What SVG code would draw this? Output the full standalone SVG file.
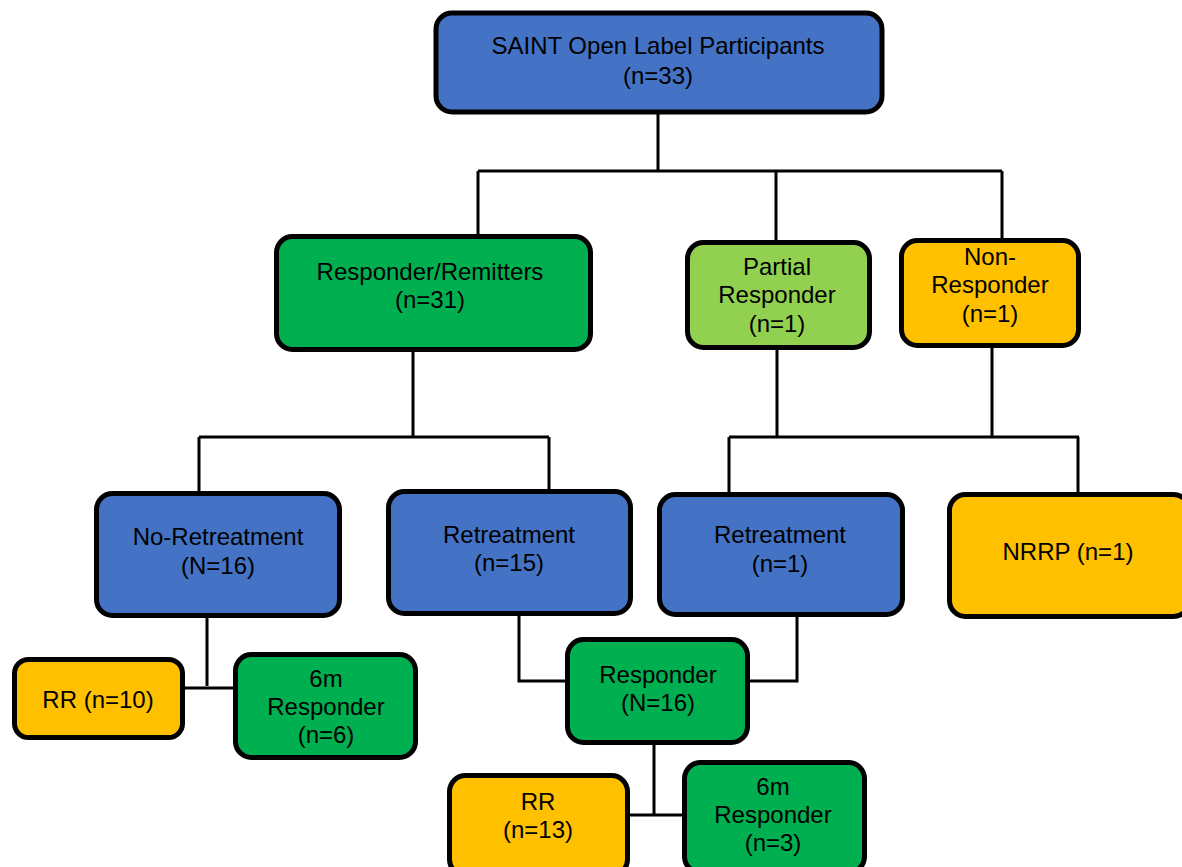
<svg xmlns="http://www.w3.org/2000/svg" width="1182" height="867" viewBox="0 0 1182 867">
<style>
.box{stroke:#000;stroke-width:5}
.blue{fill:#4472C4}
.green{fill:#00B050}
.lgreen{fill:#92D050}
.orange{fill:#FFC000}
text{font-size:24px;fill:#000;text-anchor:middle}
.conn{fill:none;stroke:#000;stroke-width:3}
</style>
<rect width="1182" height="867" fill="#fff"/>
<g id="connectors" class="conn">
<path d="M658 112V171M478 171H1002M478 171V237M776 171V243M1002 171V241"/>
<path d="M413 350V437M199 437H549M199 437V494M549 437V492"/>
<path d="M777 348V437M992 346V437M729 437H1079M729 437V495M1078 437V495"/>
<path d="M207 616V686M183 688H235"/>
<path d="M519 614V681H567M797 615V681H747"/>
<path d="M654 743V815M628 815H684"/>
</g>
<g font-family="Liberation Sans, Arial, sans-serif">
<g id="n-top"><rect class="box blue" x="436" y="13" width="446" height="99" rx="16"/>
<text x="658" y="54">SAINT Open Label Participants</text><text x="658" y="84">(n=33)</text></g>
<g id="n-rr"><rect class="box green" x="276.5" y="236.5" width="314" height="113" rx="16"/>
<text x="430" y="280">Responder/Remitters</text><text x="430" y="308">(n=31)</text></g>
<g id="n-partial"><rect class="box lgreen" x="687.5" y="242.5" width="182" height="105" rx="16"/>
<text x="777" y="275">Partial</text><text x="777" y="303">Responder</text><text x="777" y="332">(n=1)</text></g>
<g id="n-non"><rect class="box orange" x="901.5" y="240.5" width="177" height="105" rx="16"/>
<text x="990" y="265">Non-</text><text x="990" y="293">Responder</text><text x="990" y="322">(n=1)</text></g>
<g id="n-noret"><rect class="box blue" x="96.5" y="493.5" width="243" height="122" rx="16"/>
<text x="218" y="545">No-Retreatment</text><text x="218" y="574">(N=16)</text></g>
<g id="n-ret15"><rect class="box blue" x="388.5" y="491.5" width="242" height="122" rx="16"/>
<text x="509" y="543">Retreatment</text><text x="509" y="571">(n=15)</text></g>
<g id="n-ret1"><rect class="box blue" x="659.5" y="494.5" width="243" height="120" rx="16"/>
<text x="780" y="543">Retreatment</text><text x="780" y="572">(n=1)</text></g>
<g id="n-nrrp"><rect class="box orange" x="949.5" y="494.5" width="240" height="122" rx="16"/>
<text x="1068" y="560">NRRP (n=1)</text></g>
<g id="n-rr10"><rect class="box orange" x="14.5" y="659.5" width="168" height="78" rx="14"/>
<text x="98" y="708">RR (n=10)</text></g>
<g id="n-6m6"><rect class="box green" x="235.5" y="654.5" width="180" height="103" rx="16"/>
<text x="326" y="687">6m</text><text x="326" y="715">Responder</text><text x="326" y="743">(n=6)</text></g>
<g id="n-resp16"><rect class="box green" x="567.5" y="639.5" width="180" height="103" rx="16"/>
<text x="658" y="683">Responder</text><text x="658" y="711">(N=16)</text></g>
<g id="n-rr13"><rect class="box orange" x="449.5" y="775.5" width="178" height="100" rx="16"/>
<text x="538" y="810">RR</text><text x="538" y="838">(n=13)</text></g>
<g id="n-6m3"><rect class="box green" x="684.5" y="762.5" width="180" height="110" rx="16"/>
<text x="773" y="795">6m</text><text x="773" y="823">Responder</text><text x="773" y="851">(n=3)</text></g>
</g>
</svg>
